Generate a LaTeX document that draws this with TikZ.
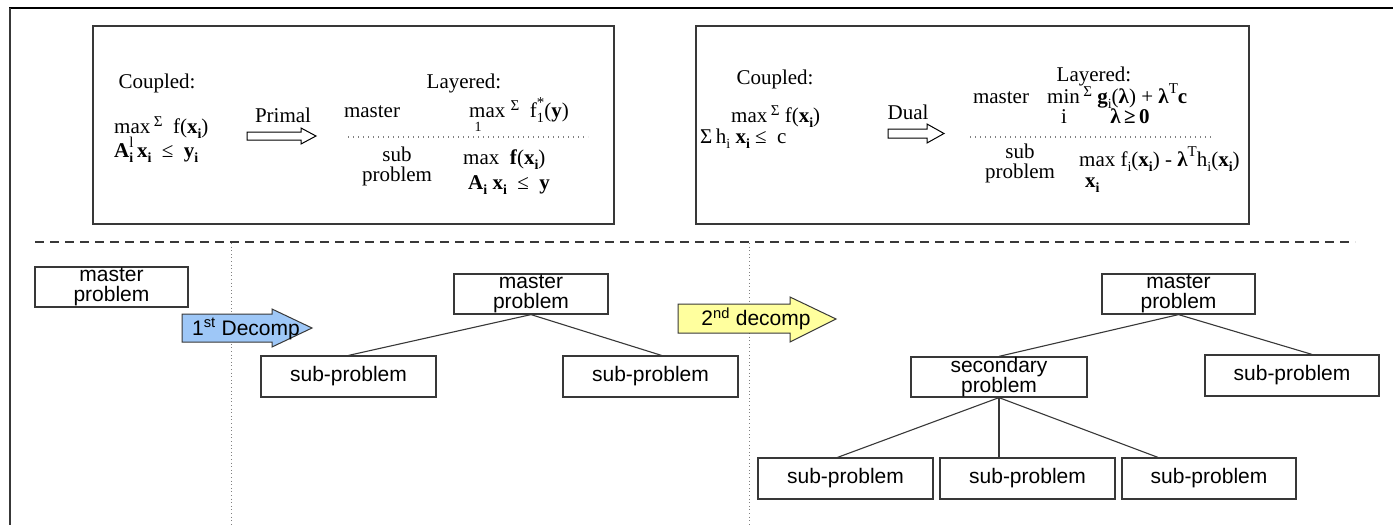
\documentclass[tikz,border=0pt]{standalone}
\usepackage{fontspec}
\setmainfont{Liberation Serif}
\newfontfamily\arialf{Liberation Sans}
\usetikzlibrary{calc}

% small helpers for the hand-set formulas
\newcommand\dnx[1]{\raisebox{-0.28em}{\fontsize{14}{14}\selectfont #1}}
\newcommand\upx[1]{\raisebox{0.45em}{\fontsize{15}{15}\selectfont #1}}
\newcommand\bothx[2]{\makebox[0pt][l]{\dnx{#1}}\upx{#2}}
\newcommand\sgx{\raisebox{0.3em}{\fontsize{15}{15}\selectfont Σ}}

\definecolor{edge}{rgb}{0.22,0.22,0.22}
\definecolor{blueA}{rgb}{0.62,0.78,0.97}
\definecolor{yellowA}{rgb}{1,1,0.62}

\tikzset{
  serif/.style={font=\fontsize{21}{21}\selectfont, inner sep=0pt},
  small/.style={font=\fontsize{14}{14}\selectfont, inner sep=0pt},
  panel/.style={draw=edge, line width=1.3pt},
  probbox/.style={draw=edge, line width=1.2pt, inner sep=0pt,
    font=\arialf\fontsize{21}{20.5}\selectfont, align=center},
  link/.style={draw=edge, line width=1.1pt},
  sepdots/.style={draw=gray, line width=1.1pt, dash pattern=on 1.1pt off 3.9pt},
  vdots/.style={draw=gray, line width=1pt, dash pattern=on 1pt off 2.6pt},
  hollow/.style={draw=black, line width=1pt, fill=white},
}

\begin{document}
\begin{tikzpicture}[x=1pt, y=-1pt]
\useasboundingbox (0,0) rectangle (1393,525);
\fill[white] (0,0) rectangle (1393,525);

% outer frame (top and left sides)
\draw[black, line width=1.6pt] (9,8) -- (1393,8);
\draw[edge, line width=1.1pt] (10,8) -- (10,525);

% ---------- primal panel ----------
\draw[panel] (93,26) rectangle (614,224);
\node[serif, anchor=base] (c1) at (157,88) {Coupled:};
\node[serif, anchor=base west] (p1a) at (114,133) {max\,\sgx\ \ f(\textbf{x}\dnx{\textbf{i}})};
\node[serif, anchor=base west] (p1b) at (114,157) {\textbf{A}\bothx{\textbf{i}}{l}\,\textbf{x}\dnx{\textbf{i}}\ \ ≤\ \ \textbf{y}\dnx{\textbf{i}}};
\node[serif, anchor=base] (primal) at (283,122) {Primal};
\draw[hollow] (247,132) -- (301,132) -- (301,128) -- (316,136) -- (301,144)
  -- (301,140) -- (247,140) -- cycle;
\node[serif, anchor=base] (l1) at (464,88) {Layered:};
\node[serif, anchor=base] (m1t) at (372,117) {master};
\node[serif, anchor=base west] (m1f) at (469,117) {max \sgx\ \ f\bothx{1}{*}(\textbf{y})};
\node[small] (m1i) at (478,127) {1};
\coordinate (d1a) at (348,137);
\coordinate (d1b) at (588,137);
\draw[sepdots] (d1a) -- (d1b);
\node[serif, anchor=base] (s1t) at (397,161) {sub};
\node[serif, anchor=base] (s1u) at (397,181) {problem};
\node[serif, anchor=base west] (s1f) at (463,164) {max\ \ \textbf{f}(\textbf{x}\dnx{\textbf{i}})};
\node[serif, anchor=base west] (s1g) at (468,189) {\textbf{A}\dnx{\textbf{i}}\ \textbf{x}\dnx{\textbf{i}}\ \ ≤\ \ \textbf{y}};

% ---------- dual panel ----------
\draw[panel] (696,26) rectangle (1249,224);
\node[serif, anchor=base] (c2) at (775,84) {Coupled:};
\node[serif, anchor=base west] (p2a) at (731,122) {max\,\sgx\ f(\textbf{x}\dnx{\textbf{i}})};
\node[serif, anchor=base west] (p2b) at (700,143) {Σ\,h\dnx{i}\ \textbf{x}\dnx{\textbf{i}}\ ≤\ \ c};
\node[serif, anchor=base] (dual) at (908,119) {Dual};
\draw[hollow] (888,129) -- (927,129) -- (927,124) -- (944,133.5) -- (927,143)
  -- (927,138) -- (888,138) -- cycle;
\node[serif, anchor=base] (l2) at (1094,81) {Layered:};
\node[serif, anchor=base] (m2t) at (1001,103) {master};
\node[serif, anchor=base west] (m2f) at (1047,103) {min\,\sgx\ \textbf{g}\dnx{i}(\textbf{λ}) + \textbf{λ}\upx{T}\textbf{c}};
\node[serif, anchor=base] (m2i) at (1064,123) {i};
\node[serif, anchor=base] (m2c) at (1130,123) {\textbf{λ\,≥\,0}};
\coordinate (d2a) at (970,137);
\coordinate (d2b) at (1213,137);
\draw[sepdots] (d2a) -- (d2b);
\node[serif, anchor=base] (s2t) at (1020,158) {sub};
\node[serif, anchor=base] (s2u) at (1020,178) {problem};
\node[serif, anchor=base west] (s2f) at (1079,166) {max f\dnx{i}(\textbf{x}\dnx{\textbf{i}}) - \textbf{λ}\upx{T}h\dnx{i}(\textbf{x}\dnx{\textbf{i}})};
\node[serif, anchor=base west] (s2g) at (1085,187) {\textbf{x}\dnx{\textbf{i}}};

% ---------- separators ----------
\coordinate (hA) at (35,242);
\coordinate (hB) at (1355,242);
\draw[edge, line width=1.2pt, dash pattern=on 9pt off 6pt] (hA) -- (hB);
\coordinate (vA) at (231,243);
\coordinate (vB) at (231,525);
\coordinate (vC) at (749,243);
\coordinate (vD) at (749,525);
\draw[vdots] (vA) -- (vB);
\draw[vdots] (vC) -- (vD);

% ---------- decomposition stages ----------
\node[probbox, minimum width=153pt, minimum height=40pt] (m0) at (111.5,287) {master\\problem};

\draw[edge, line width=1pt, fill=blueA] (182,314) -- (272,314) -- (272,309) -- (312,328)
  -- (272,347) -- (272,342) -- (182,342) -- cycle;
\node[font=\arialf\fontsize{21}{21}\selectfont, inner sep=0pt] (dc1) at (246,329) {1\textsuperscript{st} Decomp};

\node[probbox, minimum width=154pt, minimum height=40pt] (m1) at (531,294) {master\\problem};
\node[probbox, minimum width=175pt, minimum height=41pt] (s1a) at (348.5,376.5) {sub-problem};
\node[probbox, minimum width=175pt, minimum height=41pt] (s1b) at (650.5,376.5) {sub-problem};
\draw[link] (m1.south) -- (s1a.north);
\draw[link] (m1.south) -- ([xshift=11pt]s1b.north);

\draw[edge, line width=1pt, fill=yellowA] (678,304) -- (790,304) -- (790,297) -- (836,319)
  -- (790,342) -- (790,333) -- (678,333) -- cycle;
\node[font=\arialf\fontsize{21}{21}\selectfont, inner sep=0pt] (dc2) at (756,319) {2\textsuperscript{nd} decomp};

\node[probbox, minimum width=153pt, minimum height=40pt] (m2) at (1178.5,294) {master\\problem};
\node[probbox, minimum width=176pt, minimum height=40pt] (sec) at (999,377) {secondary\\problem};
\node[probbox, minimum width=174pt, minimum height=41pt] (s2r) at (1292,375.5) {sub-problem};
\node[probbox, minimum width=175pt, minimum height=41pt] (s3a) at (845.5,478.5) {sub-problem};
\node[probbox, minimum width=175pt, minimum height=41pt] (s3b) at (1027.5,478.5) {sub-problem};
\node[probbox, minimum width=174pt, minimum height=41pt] (s3c) at (1209,478.5) {sub-problem};
\draw[link] (m2.south) -- (sec.north);
\draw[link] (m2.south) -- ([xshift=20pt]s2r.north);
\draw[link] (sec.south) -- ([xshift=-8pt]s3a.north);
\draw[link] (sec.south) -- (sec.south |- s3b.north);
\draw[link] (sec.south) -- ([xshift=-51pt]s3c.north);
\end{tikzpicture}
\end{document}
